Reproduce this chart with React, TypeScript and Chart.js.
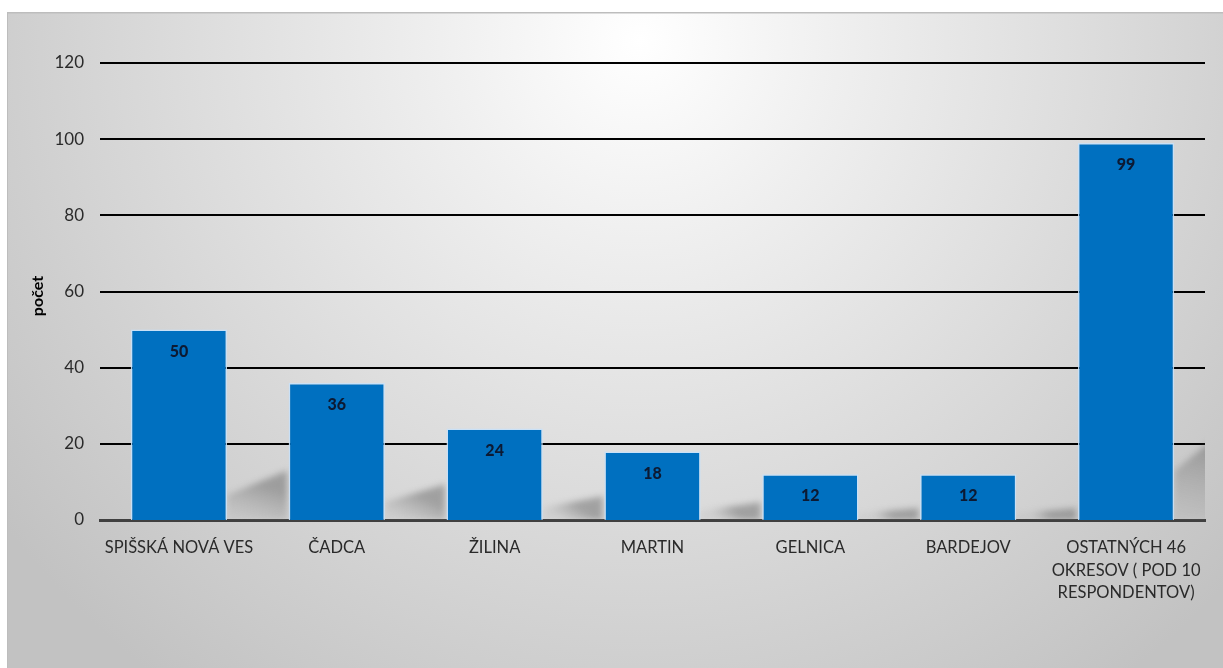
import React, { useEffect, useRef } from "react";
import { Chart, registerables } from "chart.js";

Chart.register(...registerables);

const categories: (string | string[])[] = [
  "SPIŠSKÁ NOVÁ VES",
  "ČADCA",
  "ŽILINA",
  "MARTIN",
  "GELNICA",
  "BARDEJOV",
  ["OSTATNÝCH 46", "OKRESOV ( POD 10", "RESPONDENTOV)"],
];
const counts: number[] = [50, 36, 24, 18, 12, 12, 99];
const yTicks: number[] = [0, 20, 40, 60, 80, 100, 120];
const yTitle = "počet";

const FONT = "Lato, 'Open Sans', sans-serif";

const bgPlugin = {
  id: "bgPlugin",
  beforeDraw(chart: any) {
    const { ctx, width, height } = chart;
    ctx.save();
    ctx.fillStyle = "#ffffff";
    ctx.fillRect(0, 0, width, height);
    const x0 = 7, y0 = 12;
    const g = ctx.createRadialGradient(640, 40, 0, 640, 40, 800);
    g.addColorStop(0, "#ffffff");
    g.addColorStop(0.25, "#efefef");
    g.addColorStop(1, "#c2c2c2");
    ctx.fillStyle = g;
    ctx.fillRect(x0, y0, width - x0, height - y0);
    ctx.fillStyle = "#bdbdbd";
    ctx.fillRect(x0, y0, width - x0, 1.5);
    ctx.fillRect(x0, y0, 1, height - y0);
    // y title
    ctx.translate(38, 296);
    ctx.rotate(-Math.PI / 2);
    ctx.fillStyle = "#000";
    ctx.font = `bold 16px ${FONT}`;
    ctx.textAlign = "center";
    ctx.textBaseline = "middle";
    ctx.fillText(yTitle, 0, 0);
    ctx.restore();
  },
  beforeDatasetsDraw(chart: any) {
    const { ctx, chartArea } = chart;
    const meta = chart.getDatasetMeta(0);
    ctx.save();
    ctx.beginPath();
    ctx.rect(chartArea.left, chartArea.top, chartArea.right - chartArea.left, chartArea.bottom - chartArea.top);
    ctx.clip();
    ctx.filter = "blur(3px)";
    meta.data.forEach((bar: any) => {
      const right = bar.x + bar.width / 2;
      const base = bar.base;
      const h = (base - bar.y) * 0.26;
      const sw = 60;
      const g = ctx.createLinearGradient(right + sw * 0.5, base - h * 0.75, right + sw * 0.3, base);
      g.addColorStop(0, "rgba(105,105,105,0.5)");
      g.addColorStop(1, "rgba(140,140,140,0.12)");
      ctx.fillStyle = g;
      ctx.beginPath();
      ctx.moveTo(right, base);
      ctx.lineTo(right, base - h * 0.5);
      ctx.lineTo(right + sw, base - h);
      ctx.lineTo(right + sw, base);
      ctx.closePath();
      ctx.fill();
    });
    ctx.restore();
  },
  afterDatasetsDraw(chart: any) {
    const { ctx } = chart;
    const meta = chart.getDatasetMeta(0);
    ctx.save();
    ctx.fillStyle = "#0c1a33";
    ctx.font = `900 16px ${FONT}`;
    ctx.textAlign = "center";
    ctx.textBaseline = "middle";
    meta.data.forEach((bar: any, i: number) => {
      ctx.fillText(String(counts[i]), bar.x, bar.y + 22);
    });
    ctx.restore();
  },
};

export default function App() {
  const ref = useRef<HTMLCanvasElement>(null);
  useEffect(() => {
    document.body.style.margin = "0";
    const chart = new Chart(ref.current!, {
      type: "bar",
      data: {
        labels: categories,
        datasets: [
          {
            data: counts,
            backgroundColor: "#0070c0",
            borderColor: "rgba(200,225,250,0.9)",
            borderWidth: 1.5,
            barPercentage: 0.61,
            categoryPercentage: 1,
          },
        ],
      },
      options: {
        animation: false,
        responsive: false,
        maintainAspectRatio: false,
        layout: { padding: { left: 0, right: 18, top: 63, bottom: 0 } },
        plugins: { legend: { display: false }, tooltip: { enabled: false } },
        scales: {
          x: {
            grid: { display: false, drawTicks: false },
            border: { display: true, color: "#404040", width: 3 },
            ticks: {
              color: "#2a2a2a",
              font: { family: FONT, size: 16.5, lineHeight: 1.35 },
              padding: 17,
              maxRotation: 0,
              autoSkip: false,
            },
            afterFit(scale: any) {
              scale.height = 148;
            },
          },
          y: {
            min: 0,
            max: 120,
            afterBuildTicks(scale: any) {
              scale.ticks = yTicks.map((v) => ({ value: v }));
            },
            grid: {
              color: "#000",
              lineWidth: (c: any) => (c.tick && c.tick.value === 0 ? 0 : 2),
              drawTicks: false,
            },
            border: { display: false },
            ticks: {
              color: "#2a2a2a",
              font: { family: FONT, size: 17 },
              padding: 16,
            },
            afterFit(scale: any) {
              scale.width = 100;
            },
          },
        },
      },
      plugins: [bgPlugin],
    });
    return () => chart.destroy();
  }, []);
  return <canvas ref={ref} width={1223} height={668} style={{ display: "block" }} />;
}
